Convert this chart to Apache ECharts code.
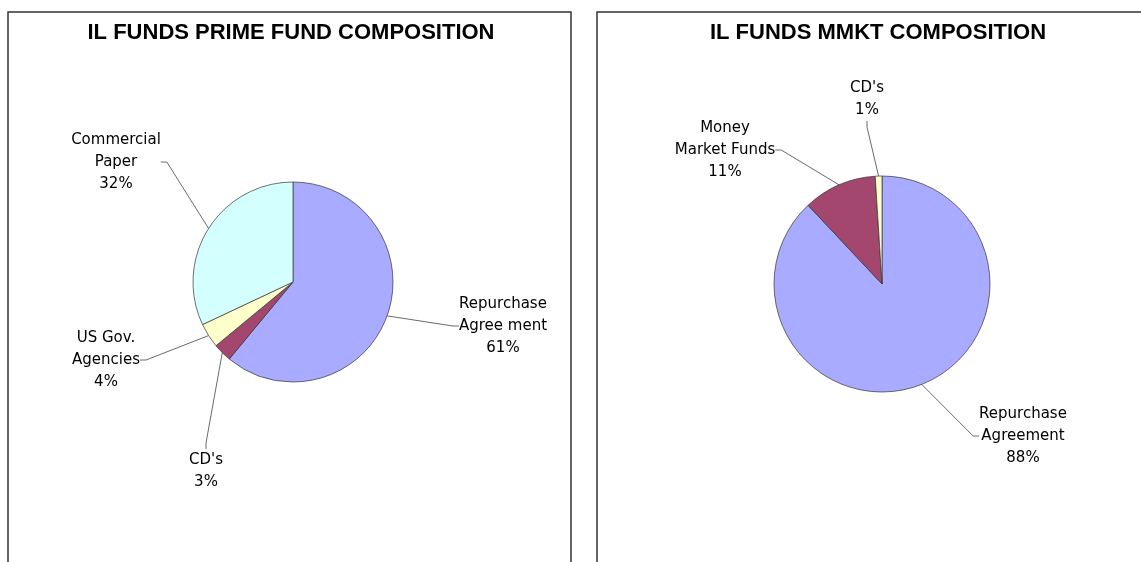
<!DOCTYPE html>
<html>
<head>
<meta charset="utf-8">
<script src="https://cdn.jsdelivr.net/npm/echarts@6/dist/echarts.min.js"></script>
<style>
  html, body { margin: 0; padding: 0; background: #fff; }
  #chart { width: 1141px; height: 562px; }
</style>
</head>
<body>
<div id="chart"></div>
<script>
// prime fund composition (clockwise from 12 o'clock)
const primeNames = ['Repurchase\nAgree ment', "CD's", 'US Gov.\nAgencies', 'Commercial\nPaper']
const primeValues = [61, 3, 4, 32]
const primeColors = ['#a8abff', '#a3476f', '#ffffcc', '#d4ffff']

// mmkt composition
const mmktNames = ['Repurchase\nAgreement', 'Money\nMarket Funds', "CD's"]
const mmktValues = [88, 11, 1]
const mmktColors = ['#a8abff', '#a3476f', '#ffffcc']

const titles = ['IL FUNDS PRIME FUND COMPOSITION', 'IL FUNDS MMKT COMPOSITION']

// where each label sits (label centre, px)
const primeLabelPos = [[503, 326], [206, 471], [106, 360], [116, 162]]
const mmktLabelPos = [[1023, 436], [725, 150], [867, 99]]

const labelFont = { fontFamily: 'DejaVu Sans', fontSize: 15, lineHeight: 22, color: '#000' }

function pieSeries(names, values, colors, center, radius, pos) {
  return {
    type: 'pie',
    center: center,
    radius: radius,
    startAngle: 90,
    clockwise: true,
    animation: false,
    data: names.map((n, i) => ({ name: n, value: values[i], itemStyle: { color: colors[i] } })),
    itemStyle: { borderColor: '#333', borderWidth: 0.7 },
    label: Object.assign({ show: true, formatter: '{b}\n{c}%', align: 'center' }, labelFont),
    labelLine: { show: true, length: 20, length2: 6, lineStyle: { color: '#444', width: 0.8 } },
    labelLayout: function (p) {
      const pt = pos[p.dataIndex]
      return { x: pt[0], y: pt[1], align: 'center', verticalAlign: 'middle' }
    },
    emphasis: { disabled: true }
  }
}

const chart = echarts.init(document.getElementById('chart'))
chart.setOption({
  animation: false,
  graphic: [
    { type: 'rect', shape: { x: 8, y: 12, width: 563, height: 600 }, style: { fill: 'none', stroke: '#333', lineWidth: 1.5 } },
    { type: 'rect', shape: { x: 597, y: 12, width: 600, height: 600 }, style: { fill: 'none', stroke: '#333', lineWidth: 1.5 } },
    { type: 'text', x: 291, y: 33, style: { text: titles[0], textAlign: 'center', textVerticalAlign: 'middle', font: 'bold 22px "Liberation Sans", Arial', fill: '#000' } },
    { type: 'text', x: 878, y: 33, style: { text: titles[1], textAlign: 'center', textVerticalAlign: 'middle', font: 'bold 22px "Liberation Sans", Arial', fill: '#000' } }
  ],
  series: [
    pieSeries(primeNames, primeValues, primeColors, [293, 282], 100, primeLabelPos),
    pieSeries(mmktNames, mmktValues, mmktColors, [882, 284], 108, mmktLabelPos)
  ]
})
</script>
</body>
</html>
